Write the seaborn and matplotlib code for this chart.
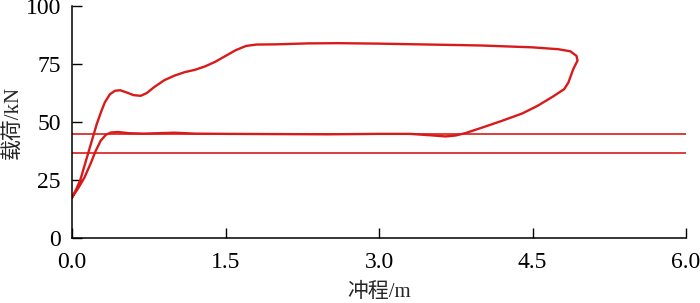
import matplotlib
matplotlib.use("Agg")
import matplotlib.pyplot as plt
import seaborn as sns
import pandas as pd

# Load-stroke loop (stroke in m, load in kN), traced in drawing order
stroke = [0.00, 0.04, 0.08, 0.12, 0.16, 0.20, 0.24, 0.28, 0.32, 0.37, 0.42, 0.47,
          0.53, 0.60, 0.67, 0.73, 0.80, 0.90, 1.00, 1.10, 1.20, 1.30, 1.40, 1.50,
          1.60, 1.70, 1.80, 2.00, 2.30, 2.60, 3.00, 3.50, 4.00, 4.50, 4.75, 4.87,
          4.93, 4.94, 4.90, 4.85, 4.81, 4.70, 4.55, 4.40, 4.20, 4.00, 3.85, 3.75,
          3.65, 3.50, 3.30, 3.00, 2.50, 2.00, 1.50, 1.20, 1.00, 0.85, 0.70, 0.55,
          0.45, 0.38, 0.33, 0.28, 0.23, 0.18, 0.12, 0.06, 0.00]
load = [17.5, 21.0, 25.0, 31.0, 37.0, 43.0, 49.0, 54.0, 58.5, 62.0, 63.5, 63.7,
        62.8, 61.6, 61.3, 62.5, 65.0, 68.0, 70.0, 71.5, 72.5, 74.0, 76.0, 78.5,
        81.0, 82.8, 83.4, 83.5, 83.9, 84.0, 83.8, 83.4, 83.0, 82.2, 81.4, 80.5,
        78.5, 76.5, 73.0, 67.0, 64.2, 61.0, 57.0, 53.7, 50.5, 47.5, 45.3, 44.2,
        43.8, 44.3, 44.9, 44.9, 44.7, 44.8, 44.9, 45.0, 45.4, 45.2, 45.0, 45.2,
        45.7, 45.5, 44.5, 42.0, 37.5, 32.0, 26.0, 21.5, 17.5]

# Horizontal reference load levels (kN)
levels = [45.0, 36.5]

x_ticks = [0.0, 1.5, 3.0, 4.5, 6.0]
x_ticklabels = ["0.0", "1.5", "3.0", "4.5", "6.0"]
y_ticks = [0, 25, 50, 75, 100]

sns.set_style("ticks")
plt.rcParams["font.family"] = ["Liberation Serif", "Noto Sans CJK SC"]
plt.rcParams["axes.unicode_minus"] = False

red = "#d91a1a"

fig = plt.figure(figsize=(7.0, 3.03), dpi=100)
ax = fig.add_axes([0.103, 0.2145, 0.877, 0.7655])

df = pd.DataFrame({"stroke": stroke, "load": load})
sns.lineplot(data=df, x="stroke", y="load", sort=False, estimator=None,
             color=red, linewidth=1.7, ax=ax)
ax.hlines(levels, 0, 6, colors=red, linewidth=1.2)

ax.set_xlim(0, 6)
ax.set_ylim(0, 100)
ax.set_xticks(x_ticks)
ax.set_xticklabels(x_ticklabels)
ax.set_yticks(y_ticks)
ax.tick_params(direction="in", length=7, width=1.0, labelsize=17, colors="black")
ax.tick_params(axis="y", pad=8)
ax.tick_params(axis="x", pad=10)
for lbl in ax.get_yticklabels():
    lbl.set_va("center_baseline")
for s in ["top", "right"]:
    ax.spines[s].set_visible(False)
for s in ["left", "bottom"]:
    ax.spines[s].set_linewidth(1.1)
    ax.spines[s].set_color("black")

ax.set_xlabel("冲程/m", fontsize=15, va="center")
ax.set_ylabel("载荷/kN", fontsize=15, va="center")
ax.xaxis.set_label_coords(0.5, -0.235)
ax.yaxis.set_label_coords(-0.097, 0.5)

fig.savefig("out.png", dpi=100)
